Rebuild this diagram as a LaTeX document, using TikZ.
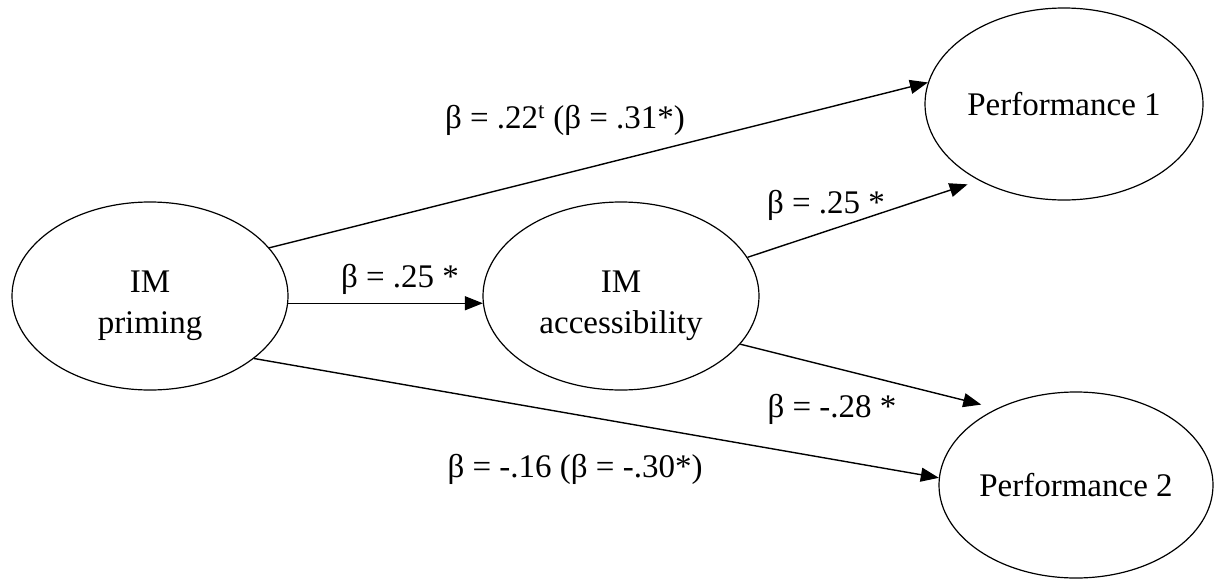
\documentclass[tikz,border=0pt]{standalone}
\usepackage{fontspec}
\setmainfont{Liberation Serif}
\usetikzlibrary{shapes.geometric, arrows.meta, positioning}

\tikzset{
  construct/.style={draw, ellipse, line width=1.2pt, minimum width=276pt,
    minimum height=188pt, inner sep=0pt, align=center,
    font=\fontsize{33}{41}\selectfont},
  effect/.style={-{Triangle[length=18pt, width=14pt]}, line width=1.4pt},
  coef/.style={anchor=base, inner sep=0pt, font=\fontsize{33}{40}\selectfont}
}

\begin{document}
\begin{tikzpicture}[x=1pt, y=-1pt]
  \useasboundingbox (0,0) rectangle (1216,581);

  % constructs
  \node[construct, text height=82pt] (priming) at (150,296) {IM\\priming};
  \node[construct, text height=82pt] (access) at (621,296) {IM\\accessibility};
  \node[construct, minimum width=278pt, minimum height=192pt] (perfone) at (1064,104) {Performance 1};
  \node[construct, minimum width=274pt, minimum height=186pt] (perftwo) at (1076,485) {Performance 2};

  % paths
  \draw[effect] (priming.22) -- (perfone.171);
  \draw[effect] (priming.-3) -- (access.183);
  \draw[effect] (priming.-31) -- (perftwo.177);
  \draw[effect, shorten >=12pt] (access.17) -- (perfone.222);
  \draw[effect, shorten >=16pt] (access.-22) -- (perftwo.136);

  % coefficients
  \node[coef] (cdirectone) at (565,128) {β = .22\textsuperscript{t} (β = .31*)};
  \node[coef] (cmediator) at (400,287) {β = .25 *};
  \node[coef] (caccone) at (826,213) {β = .25 *};
  \node[coef] (cacctwo) at (832,417) {β = -.28 *};
  \node[coef] (cdirecttwo) at (575,477) {β = -.16 (β = -.30*)};
\end{tikzpicture}
\end{document}
